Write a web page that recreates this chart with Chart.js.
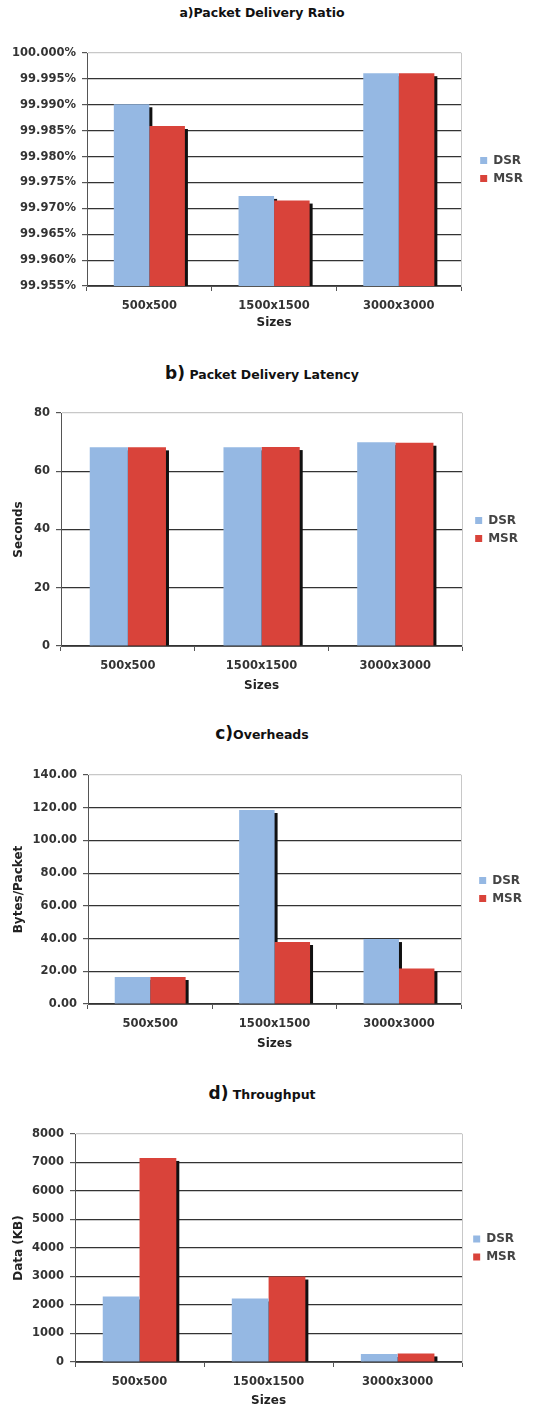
<!DOCTYPE html>
<html>
<head>
<meta charset="utf-8">
<script src="https://cdn.jsdelivr.net/npm/chart.js@4.4.0/dist/chart.umd.min.js"></script>
<style>
  body { margin: 0; background: #fff; width: 535px; height: 1410px; position: relative; overflow: hidden; font-family: "DejaVu Sans", Verdana, sans-serif; }
  .ttl { position: absolute; left: 0; width: 524px; text-align: center; font-weight: bold; font-size: 12.5px; line-height: 20px; color: #111; white-space: nowrap; }
  .ttl span { font-size: 17px; }
  canvas { position: absolute; left: 0; display: block; }
</style>
</head>
<body>
<div class="ttl" style="top:3px"><span style="font-size:12.5px">a)</span>Packet Delivery Ratio</div>
<div class="ttl" style="top:363px"><span>b)</span> Packet Delivery Latency</div>
<div class="ttl" style="top:723px"><span>c)</span>Overheads</div>
<div class="ttl" style="top:1083px"><span>d)</span> Throughput</div>

<canvas id="chartA" width="535" height="297" style="top:35px"></canvas>
<canvas id="chartB" width="535" height="300" style="top:395px"></canvas>
<canvas id="chartC" width="535" height="296" style="top:757px"></canvas>
<canvas id="chartD" width="535" height="294" style="top:1116px"></canvas>

<script>
// ---- data ----
const sizes = ['500x500', '1500x1500', '3000x3000'];
const seriesNames = ['DSR', 'MSR'];

// a) packet delivery ratio, percent
const ratioDSR = [99.9901, 99.9724, 99.9961];
const ratioMSR = [99.9859, 99.9715, 99.9961];
const ratioTicks = [99.955, 99.960, 99.965, 99.970, 99.975, 99.980, 99.985, 99.990, 99.995, 100.000];

// b) packet delivery latency, seconds
const latencyDSR = [68.2, 68.2, 70.0];
const latencyMSR = [68.2, 68.3, 69.8];
const latencyTicks = [0, 20, 40, 60, 80];

// c) overheads, bytes/packet
const overheadDSR = [16.5, 118.6, 39.7];
const overheadMSR = [16.5, 37.9, 21.7];
const overheadTicks = [0, 20, 40, 60, 80, 100, 120, 140];

// d) throughput, KB
const throughputDSR = [2300, 2230, 280];
const throughputMSR = [7160, 3000, 300];
const throughputTicks = [0, 1000, 2000, 3000, 4000, 5000, 6000, 7000, 8000];

const FONT = '"DejaVu Sans", Verdana, sans-serif';
const DSR_COLOR = '#95b8e3';
const MSR_COLOR = '#d9433a';
const AXIS = '#555';

// black drop shadow on the right side of each bar (drawn under all bars)
const barShadow = {
  id: 'barShadow',
  beforeDatasetsDraw(chart) {
    const { ctx, chartArea } = chart;
    ctx.save();
    ctx.beginPath();
    ctx.rect(chartArea.left, chartArea.top, chartArea.width, chartArea.height);
    ctx.clip();
    ctx.fillStyle = '#111';
    chart.data.datasets.forEach((ds, i) => {
      chart.getDatasetMeta(i).data.forEach(bar => {
        const p = bar.getProps(['x', 'y', 'base', 'width'], true);
        ctx.fillRect(p.x - p.width / 2 + 3, p.y + 3, p.width, p.base - p.y - 3);
      });
    });
    ctx.restore();
  }
};

function makeChart(id, cfg) {
  const yMax = cfg.ticks[cfg.ticks.length - 1];
  return new Chart(document.getElementById(id), {
    type: 'bar',
    data: {
      labels: sizes,
      datasets: [
        { label: seriesNames[0], data: cfg.dsr, backgroundColor: DSR_COLOR },
        { label: seriesNames[1], data: cfg.msr, backgroundColor: MSR_COLOR }
      ]
    },
    plugins: [barShadow],
    options: {
      responsive: false,
      animation: false,
      layout: { padding: { top: 18, right: cfg.padRight, bottom: 0, left: 0 } },
      datasets: { bar: { barPercentage: 1, categoryPercentage: 0.57 } },
      plugins: {
        tooltip: { enabled: false },
        legend: {
          position: 'right',
          align: 'center',
          fullSize: false,   // centre it on the plot area, not the whole canvas
          labels: {
            boxWidth: 7, boxHeight: 7, padding: 6, color: '#444',
            font: { family: FONT, size: 12, weight: 'bold' }
          }
        }
      },
      scales: {
        x: {
          type: 'category',
          offset: true,
          afterFit: s => { s.height = cfg.xHeight; },
          grid: { offset: true, drawOnChartArea: false, drawTicks: true, tickLength: 5, color: AXIS },
          border: { color: AXIS, width: 1 },
          ticks: { padding: 8, color: '#333', font: { family: FONT, size: 11.5, weight: 'bold' } },
          title: { display: true, text: 'Sizes', color: '#222', padding: { top: 0, bottom: 2 },
                   font: { family: FONT, size: 12, weight: 'bold' } }
        },
        y: {
          min: cfg.ticks[0],
          max: yMax,
          afterBuildTicks: s => { s.ticks = cfg.ticks.map(v => ({ value: v })); },
          afterFit: s => { s.width = cfg.left; },
          grid: {
            color: c => (c.tick && c.tick.value === yMax) ? '#c8c8c8' : '#333',
            tickColor: AXIS, tickLength: 5, lineWidth: 1.2
          },
          border: { color: AXIS, width: 1 },
          ticks: { padding: 6, color: '#333', callback: cfg.fmt,
                   font: { family: FONT, size: 11.5, weight: 'bold' } },
          title: { display: !!cfg.yTitle, text: cfg.yTitle || '', color: '#222',
                   padding: { top: 12, bottom: 0 },
                   font: { family: FONT, size: 12, weight: 'bold' } }
        },
        // thin spacer on the right: draws the light plot border and pushes the legend out
        yr: {
          type: 'linear',
          position: 'right',
          afterFit: s => { s.width = cfg.gap; },
          grid: { drawOnChartArea: false, drawTicks: false },
          ticks: { display: false },
          border: { color: '#c8c8c8', width: 1 }
        }
      }
    }
  });
}

makeChart('chartA', {
  dsr: ratioDSR, msr: ratioMSR, ticks: ratioTicks,
  fmt: v => Number(v).toFixed(3) + '%',
  left: 87, gap: 13, padRight: 2, xHeight: 46
});

makeChart('chartB', {
  dsr: latencyDSR, msr: latencyMSR, ticks: latencyTicks,
  fmt: v => String(v), yTitle: 'Seconds',
  left: 61, gap: 7, padRight: 7, xHeight: 49
});

makeChart('chartC', {
  dsr: overheadDSR, msr: overheadMSR, ticks: overheadTicks,
  fmt: v => Number(v).toFixed(2), yTitle: 'Bytes/Packet',
  left: 88, gap: 12, padRight: 3, xHeight: 49
});

makeChart('chartD', {
  dsr: throughputDSR, msr: throughputMSR, ticks: throughputTicks,
  fmt: v => String(v), yTitle: 'Data (KB)',
  left: 75, gap: 5, padRight: 9, xHeight: 48
});
</script>
</body>
</html>
